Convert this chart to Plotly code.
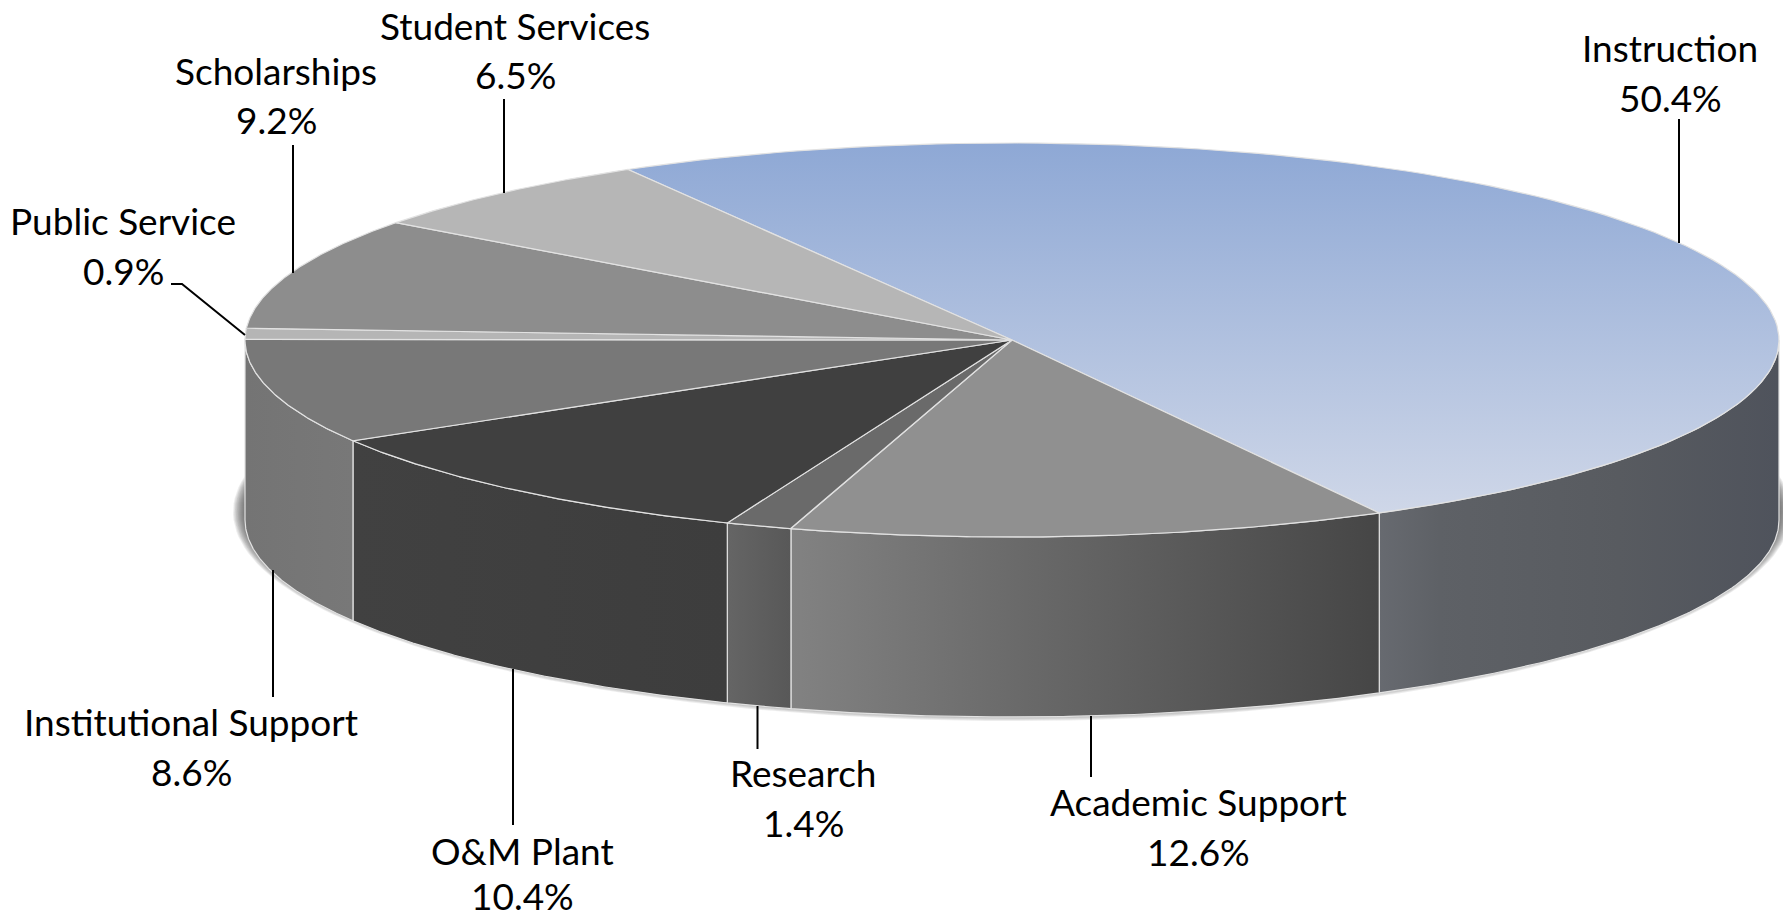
import numpy as np
import plotly.graph_objects as go

# slices, clockwise from the Instruction wedge
categories = ["Instruction", "Academic Support", "Research", "O&M Plant",
              "Institutional Support", "Public Service", "Scholarships", "Student Services"]
shares = [50.4, 12.6, 1.4, 10.4, 8.6, 0.9, 9.2, 6.5]

top_colors = ["#8ea8d5", "#909090", "#6a6a6a", "#404040", "#787878", "#b5b5b5", "#8d8d8d", "#b6b6b6"]
wall_scales = [
    [[0, "#676a70"], [0.15, "#5e6166"], [0.6, "#585b60"], [1, "#4f535c"]],
    [[0, "#828282"], [0.4, "#696969"], [1, "#464646"]],
    [[0, "#656565"], [1, "#585858"]],
    [[0, "#414141"], [1, "#3d3d3d"]],
    [[0, "#747474"], [1, "#787878"]],
    None, None, None,
]

label_xy = [(1670, 47), (1198, 801), (803, 772), (522, 850), (191, 721), (123, 220), (276, 70), (515, 25)]
percent_xy = [(1670, 97), (1198, 851), (803, 822), (522, 895), (191, 771), (123, 270), (276, 119), (515, 74)]
leaders = [
    [(1679, 119), (1679, 243)],
    [(1091, 716), (1091, 777)],
    [(757.5, 706), (757.5, 749)],
    [(513, 669), (513, 825)],
    [(273, 570), (273, 697)],
    [(171, 284), (182, 284), (245, 335)],
    [(293, 145), (293, 273)],
    [(504, 99), (504, 193)],
]

# pie geometry in page pixels
CX, CY = 1012, 340
RX, RY = 767, 197
DEPTH = 180
START = 120.05
EDGE = "#e2e2e2"


def arc(a0, a1, n=120):
    t = np.radians(np.linspace(a0, a1, n))
    return CX + RX * np.cos(t), CY - RY * np.sin(t)


fig = go.Figure()

# soft shadow under the pie
t = np.radians(np.linspace(0, 360, 240))
for grow in range(12, 0, -1):
    fig.add_trace(go.Scatter(
        x=CX + (RX + grow) * np.cos(t),
        y=CY + DEPTH - 8 + (RY + grow) * np.sin(t),
        mode="lines", fill="toself", line={"width": 0},
        fillcolor="rgba(80,80,80,0.10)", hoverinfo="skip",
    ))

edges = START - np.cumsum([0] + shares) * 3.6

# side walls, only the front half of the rim is visible
for i, name in enumerate(categories):
    a0, a1 = min(edges[i], 0), max(edges[i + 1], -180)
    if a0 <= a1:
        continue
    x, y = arc(a0, a1)
    fig.add_trace(go.Scatter(
        x=np.r_[x, x[::-1], x[0]],
        y=np.r_[y, y[::-1] + DEPTH, y[0]],
        mode="lines", fill="toself", name=name,
        line={"color": EDGE, "width": 1.2},
        fillgradient={"type": "horizontal", "colorscale": wall_scales[i]},
        hoverinfo="name",
    ))

# top faces
for i, name in enumerate(categories):
    x, y = arc(edges[i], edges[i + 1])
    trace = dict(
        x=np.r_[CX, x, CX],
        y=np.r_[CY, y, CY],
        mode="lines", fill="toself", name=name,
        line={"color": EDGE, "width": 1.2},
        hovertemplate=f"{name}: {shares[i]}%<extra></extra>",
    )
    if i == 0:
        trace["fillgradient"] = {
            "type": "vertical",
            "start": 143, "stop": 515,
            "colorscale": [[0, "#8ea8d5"], [1, "#cfd7e8"]],
        }
    else:
        trace["fillcolor"] = top_colors[i]
    fig.add_trace(go.Scatter(**trace))

# leader lines
for pts in leaders:
    fig.add_trace(go.Scatter(
        x=[p[0] for p in pts], y=[p[1] for p in pts],
        mode="lines", line={"color": "black", "width": 2}, hoverinfo="skip",
    ))

font = {"family": "Lato", "size": 37, "color": "black"}
for i, name in enumerate(categories):
    fig.add_annotation(x=label_xy[i][0], y=label_xy[i][1], text=name, showarrow=False, font=font)
    fig.add_annotation(x=percent_xy[i][0], y=percent_xy[i][1], text=f"{shares[i]}%", showarrow=False, font=font)

fig.update_layout(
    width=1783, height=920,
    margin={"l": 0, "r": 0, "t": 0, "b": 0},
    showlegend=False,
    plot_bgcolor="white", paper_bgcolor="white",
    xaxis={"range": [0, 1783], "visible": False, "fixedrange": True},
    yaxis={"range": [920, 0], "visible": False, "fixedrange": True},
)

fig.write_html("out.html", config={"displayModeBar": False},
               post_script="document.body.style.margin='0';")
